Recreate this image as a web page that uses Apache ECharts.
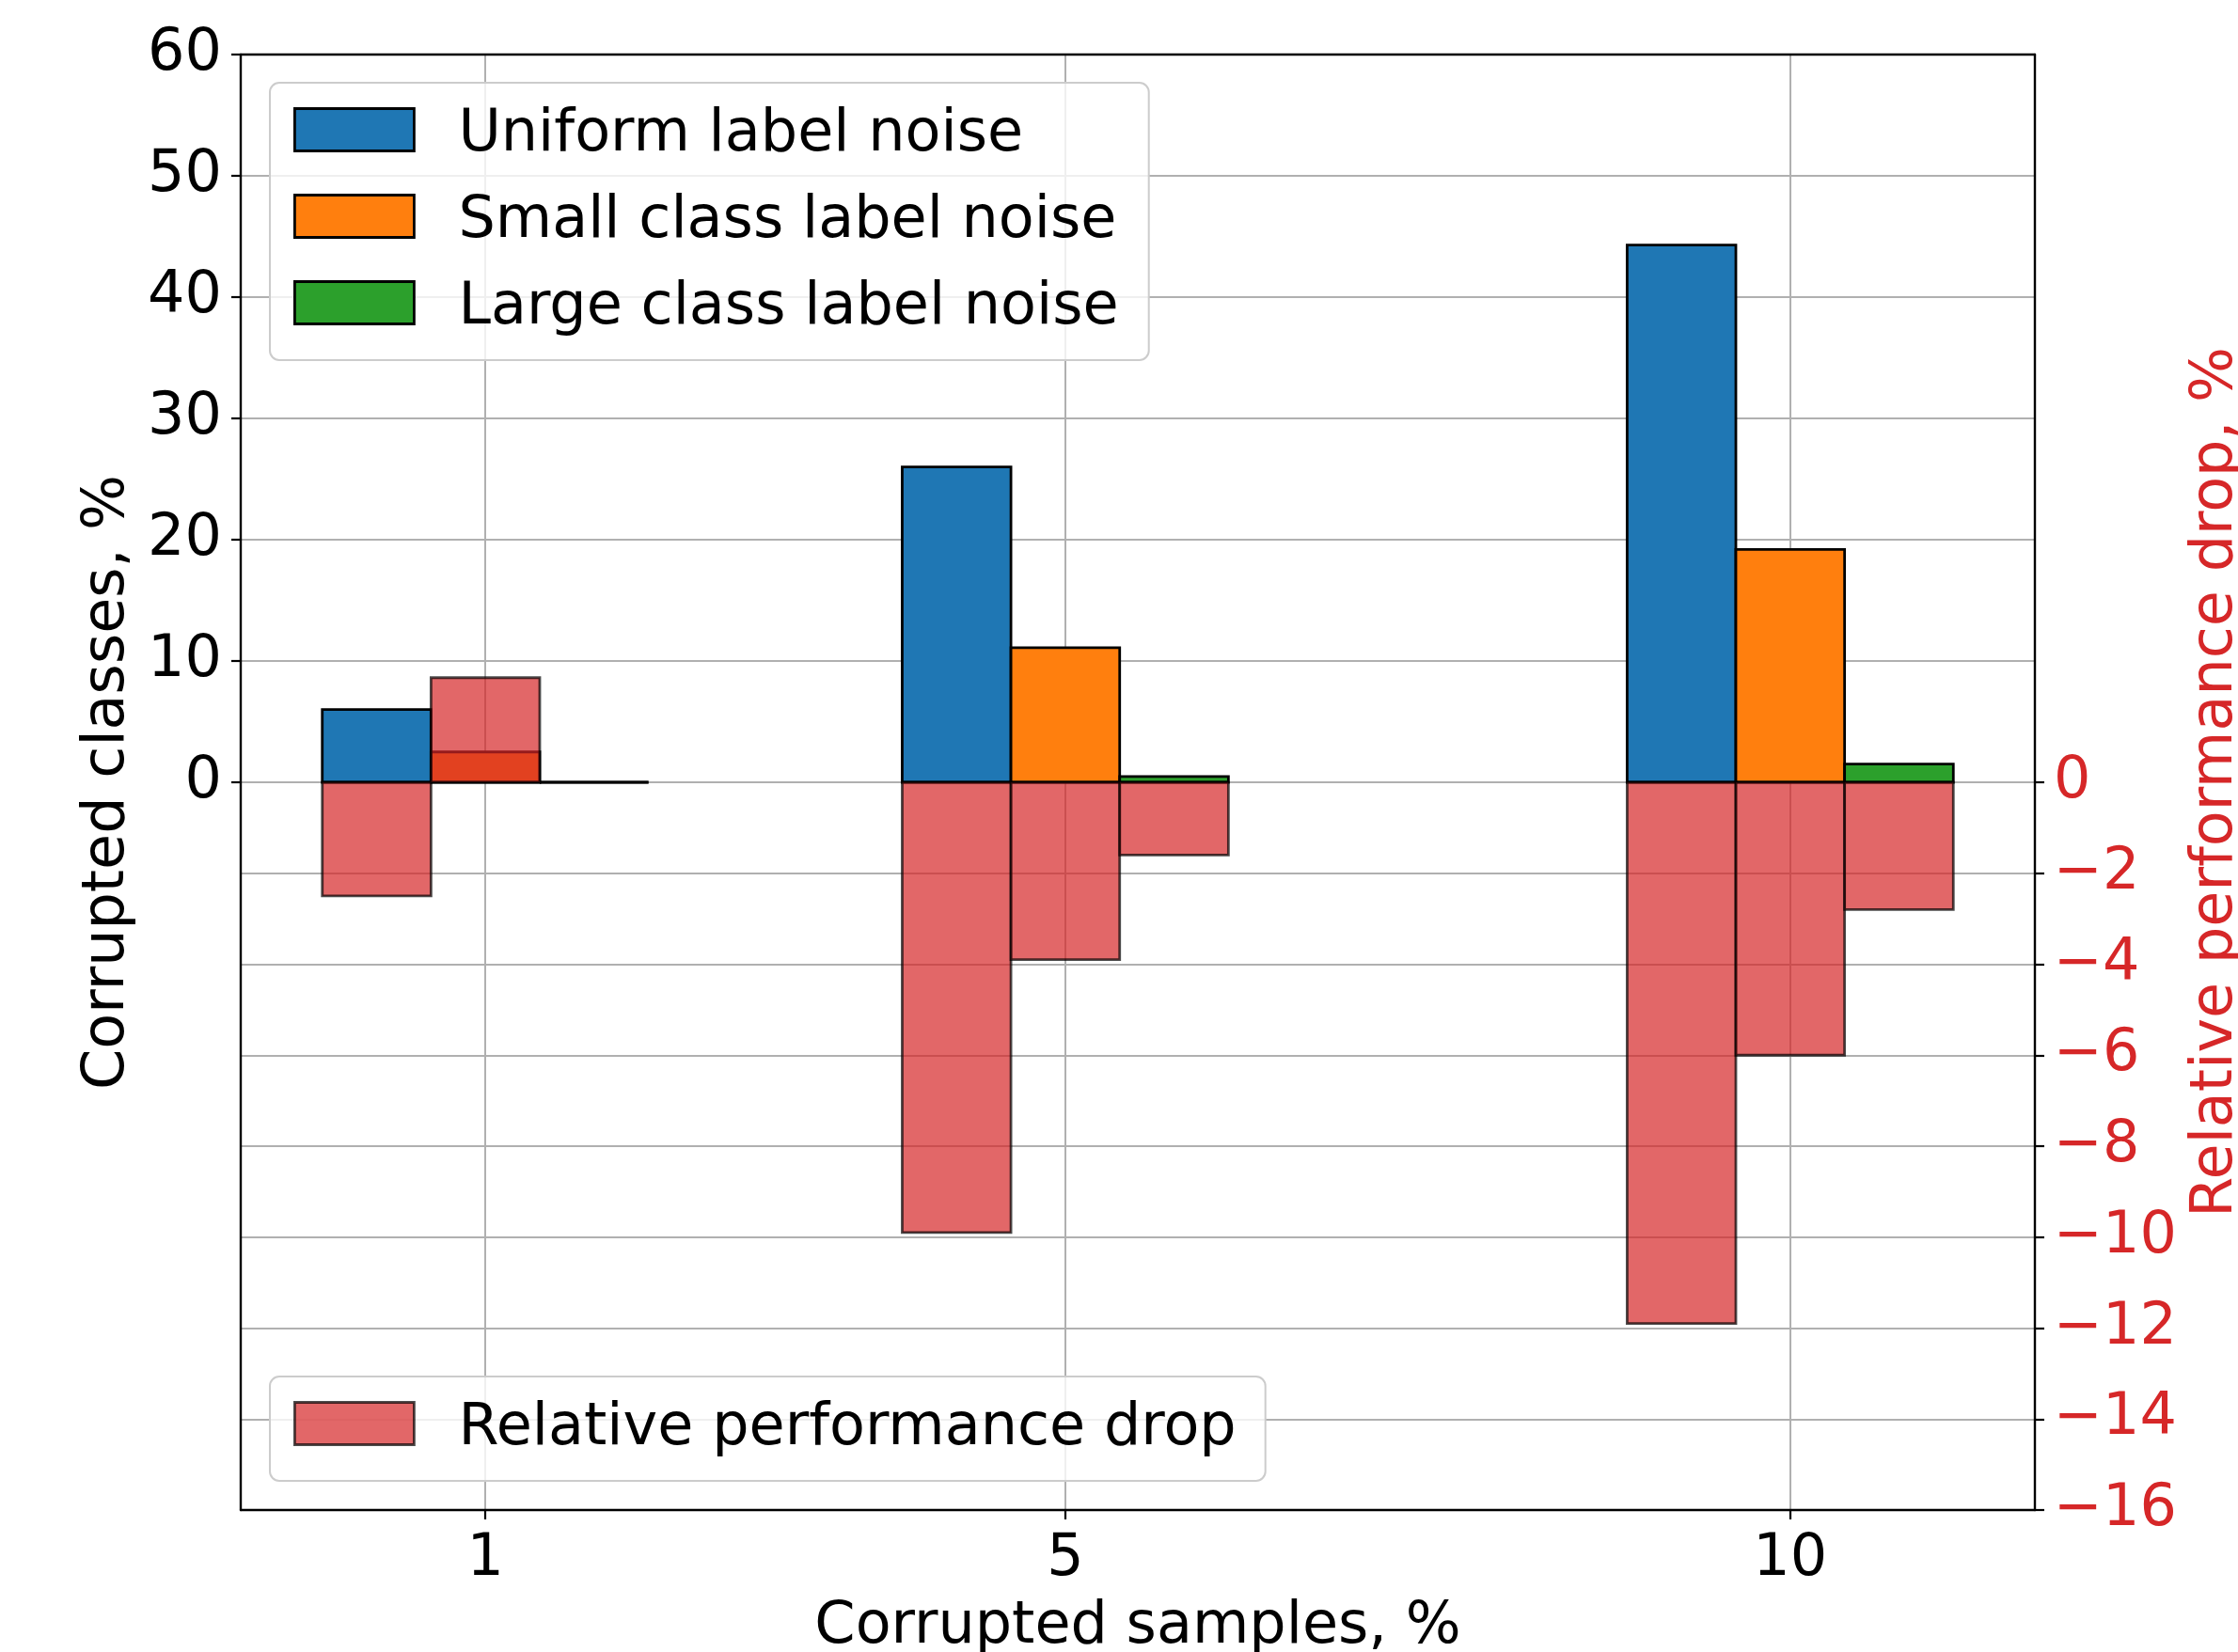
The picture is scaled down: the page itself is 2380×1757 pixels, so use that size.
<!DOCTYPE html>
<html><head><meta charset="utf-8">
<script src="https://cdn.jsdelivr.net/npm/echarts@6/dist/echarts.min.js"></script>
<style>html,body{margin:0;padding:0;background:#fff}#c{width:2380px;height:1757px}</style>
</head><body><div id="c"></div>
<script>
// ---- data ----
const corruptedSamples = [1, 5, 10];
const uniformNoise = [6.0, 26.0, 44.3];
const smallClassNoise = [2.5, 11.1, 19.2];
const largeClassNoise = [0.0, 0.47, 1.5];
const dropUniform = [-2.5, -9.9, -11.9];
const dropSmall = [2.3, -3.9, -6.0];
const dropLarge = [0.0, -1.6, -2.8];
const xTickValues = [1, 5, 10];
const leftTickValues = [0, 10, 20, 30, 40, 50, 60];
const rightTickValues = [-16, -14, -12, -10, -8, -6, -4, -2, 0];

const FONT = 'DejaVu Sans';
const FS = 62;
const BAR_W = 0.75;
const OFFSETS = [-0.75, 0, 0.75];
const EDGE = 2.8;
const BLUE = '#1f77b4', ORANGE = '#ff7f0e', GREEN = '#2ca02c';
const RED_FILL = 'rgba(214,39,40,0.7)', RED_EDGE = 'rgba(0,0,0,0.7)';
const X_MIN = -0.6875, X_MAX = 11.6875;

function barSeries(name, values, offset, yAxisIndex, fill, stroke, z) {
  return {
    type: 'custom', name: name, xAxisIndex: 0, yAxisIndex: yAxisIndex, z: z,
    itemStyle: { color: fill, borderColor: stroke, borderWidth: EDGE },
    data: corruptedSamples.map((x, i) => [x, values[i]]),
    encode: { x: 0, y: 1 },
    renderItem: function (params, api) {
      const x = api.value(0) + offset, v = api.value(1);
      const a = api.coord([x - BAR_W / 2, 0]);
      const b = api.coord([x + BAR_W / 2, v]);
      return {
        type: 'rect',
        shape: { x: a[0], y: Math.min(a[1], b[1]), width: b[0] - a[0], height: Math.abs(b[1] - a[1]) },
        style: { fill: fill, stroke: stroke, lineWidth: EDGE }
      };
    }
  };
}

const minus = v => (v < 0 ? '\u2212' + Math.abs(v) : String(v));
const spine = { show: true, onZero: false, lineStyle: { color: '#000', width: 2.4 } };
const legendText = {
  fontSize: FS, fontFamily: FONT, color: '#000', padding: [0, 0, 0, 42],
  rich: { t: { fontSize: FS, fontFamily: FONT, color: '#000', lineHeight: 50, padding: [12, 0, 0, 0] } }
};
const legendFormatter = name => '{t|' + name + '}';

const chart = echarts.init(document.getElementById('c'), null, { renderer: 'canvas' });
chart.setOption({
  animation: false,
  backgroundColor: '#fff',
  grid: { left: 256, right: 216, top: 58, bottom: 151, containLabel: false, outerBoundsMode: 'none' },
  xAxis: [
    {
      type: 'value', position: 'bottom', min: X_MIN, max: X_MAX,
      name: 'Corrupted samples, %', nameLocation: 'middle', nameGap: 94,
      nameTextStyle: { fontSize: FS, fontFamily: FONT, color: '#000' },
      axisLine: { show: false, onZero: false },
      axisTick: { show: true, length: 10, inside: false, customValues: xTickValues, lineStyle: { color: '#000', width: 2.2 } },
      axisLabel: { show: true, customValues: xTickValues, margin: 22, fontSize: FS, fontFamily: FONT, color: '#000' },
      splitLine: { show: true, lineStyle: { color: '#b0b0b0', width: 2 } }
    },
    {
      type: 'value', position: 'top', min: X_MIN, max: X_MAX, z: 6,
      axisLine: spine, axisTick: { show: false }, axisLabel: { show: false }, splitLine: { show: false }
    },
    {
      type: 'value', position: 'bottom', min: X_MIN, max: X_MAX, z: 6,
      axisLine: spine, axisTick: { show: false }, axisLabel: { show: false }, splitLine: { show: false }
    }
  ],
  yAxis: [
    {
      type: 'value', position: 'left', min: -60, max: 60, interval: 10,
      name: 'Corrupted classes, %', nameLocation: 'middle', nameGap: 106,
      nameTextStyle: { fontSize: FS, fontFamily: FONT, color: '#000' },
      axisLine: spine,
      axisTick: { show: true, length: 10, customValues: leftTickValues, lineStyle: { color: '#000', width: 2.2 } },
      axisLabel: { show: true, customValues: leftTickValues, margin: 20, fontSize: FS, fontFamily: FONT, color: '#000' },
      splitLine: { show: true, lineStyle: { color: '#b0b0b0', width: 2 } }
    },
    {
      type: 'value', position: 'right', min: -16, max: 16, interval: 2,
      name: 'Relative performance drop, %', nameLocation: 'middle', nameGap: 160,
      nameTextStyle: { fontSize: FS, fontFamily: FONT, color: '#d62728' },
      axisLine: spine,
      axisTick: { show: true, length: 10, customValues: rightTickValues, lineStyle: { color: '#000', width: 2.2 } },
      axisLabel: { show: true, customValues: rightTickValues, margin: 20, fontSize: FS, fontFamily: FONT, color: '#d62728', formatter: minus },
      splitLine: { show: true, lineStyle: { color: '#b0b0b0', width: 2 } }
    }
  ],
  legend: [
    {
      orient: 'vertical', left: 287, top: 88, padding: [13, 32, 24, 25],
      itemWidth: 127, itemHeight: 45, itemGap: 18, selectedMode: false,
      backgroundColor: 'rgba(255,255,255,0.8)', borderColor: '#cccccc', borderWidth: 2, borderRadius: 10,
      textStyle: legendText, formatter: legendFormatter,
      data: [
        { name: 'Uniform label noise', icon: 'rect', itemStyle: { color: BLUE, borderColor: '#000', borderWidth: EDGE } },
        { name: 'Small class label noise', icon: 'rect', itemStyle: { color: ORANGE, borderColor: '#000', borderWidth: EDGE } },
        { name: 'Large class label noise', icon: 'rect', itemStyle: { color: GREEN, borderColor: '#000', borderWidth: EDGE } }
      ]
    },
    {
      orient: 'vertical', left: 287, top: 1464, padding: [13, 31, 24, 25],
      itemWidth: 127, itemHeight: 45, selectedMode: false,
      backgroundColor: 'rgba(255,255,255,0.8)', borderColor: '#cccccc', borderWidth: 2, borderRadius: 10,
      textStyle: legendText, formatter: legendFormatter,
      data: [
        { name: 'Relative performance drop', icon: 'rect', itemStyle: { color: RED_FILL, borderColor: RED_EDGE, borderWidth: EDGE } }
      ]
    }
  ],
  series: [
    barSeries('Uniform label noise', uniformNoise, OFFSETS[0], 0, BLUE, '#000', 2),
    barSeries('Small class label noise', smallClassNoise, OFFSETS[1], 0, ORANGE, '#000', 2),
    barSeries('Large class label noise', largeClassNoise, OFFSETS[2], 0, GREEN, '#000', 2),
    barSeries('Relative performance drop', dropUniform, OFFSETS[0], 1, RED_FILL, RED_EDGE, 3),
    barSeries('Relative performance drop', dropSmall, OFFSETS[1], 1, RED_FILL, RED_EDGE, 3),
    barSeries('Relative performance drop', dropLarge, OFFSETS[2], 1, RED_FILL, RED_EDGE, 3)
  ]
});
</script>
</body></html>
